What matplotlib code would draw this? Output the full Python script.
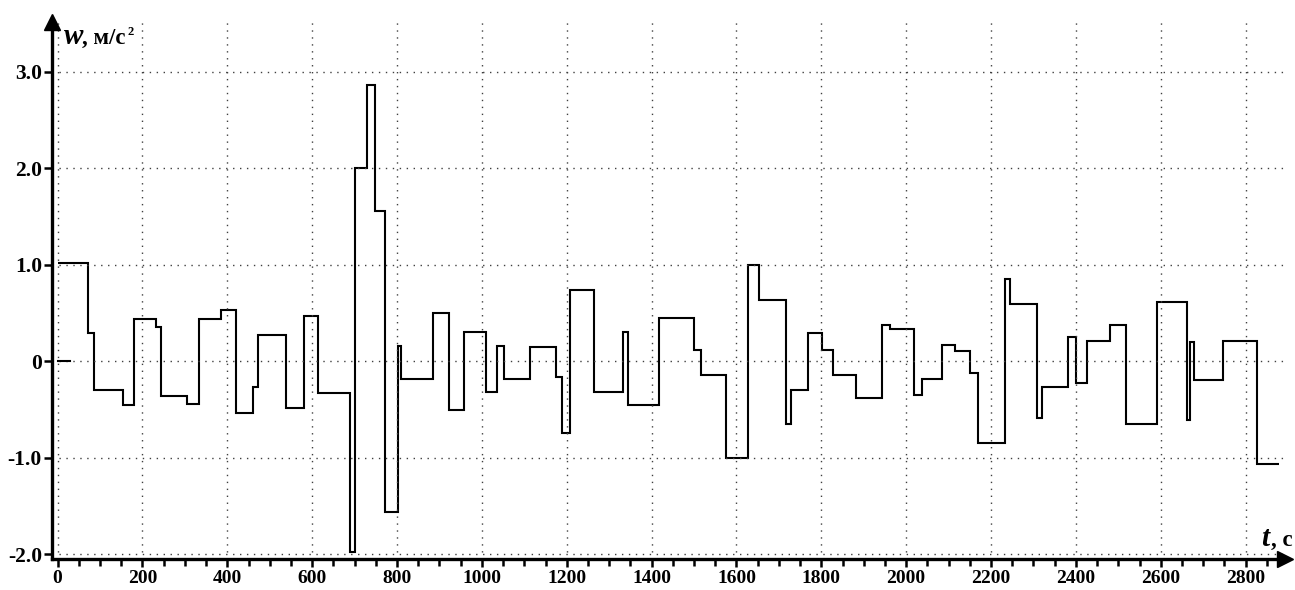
import numpy as np
import matplotlib.pyplot as plt
from matplotlib.ticker import MultipleLocator, FixedLocator, FixedFormatter

# границы ступеней по времени, с
t_edges = [0, 72, 86, 155, 180, 232, 243, 306, 333, 384,
           420, 461, 473, 538, 581, 613, 689, 701, 730, 749,
           771, 803, 809, 884, 923, 959, 1009, 1036, 1053, 1113,
           1175, 1189, 1208, 1265, 1332, 1344, 1418, 1499, 1517, 1575,
           1627, 1652, 1716, 1729, 1769, 1802, 1828, 1882, 1944, 1962,
           2018, 2038, 2085, 2115, 2151, 2170, 2234, 2245, 2309, 2321,
           2382, 2400, 2427, 2481, 2517, 2592, 2661, 2670, 2679, 2746,
           2826, 2878]

# ускорение на каждой ступени, м/с^2
w_vals = [1.02, 0.29, -0.30, -0.45, 0.44, 0.35, -0.36, -0.44, 0.44, 0.53,
          -0.54, -0.27, 0.27, -0.48, 0.47, -0.33, -1.98, 2.0, 2.86, 1.56,
          -1.56, 0.16, -0.18, 0.50, -0.51, 0.30, -0.32, 0.16, -0.18, 0.15,
          -0.16, -0.74, 0.74, -0.32, 0.30, -0.45, 0.45, 0.12, -0.14, -1.00,
          1.0, 0.63, -0.65, -0.30, 0.29, 0.12, -0.14, -0.38, 0.38, 0.335,
          -0.35, -0.18, 0.17, 0.11, -0.12, -0.85, 0.85, 0.59, -0.59, -0.27,
          0.255, -0.225, 0.21, 0.38, -0.65, 0.61, -0.61, 0.20, -0.19, 0.21,
          -1.07]

# короткий отрезок на нуле в начале
zero_t = [0, 29]
zero_w = [0, 0]

y_ticks = [-2, -1, 0, 1, 2, 3]
y_labels = ['-2.0', '-1.0', '0', '1.0', '2.0', '3.0']

plt.rcParams['font.family'] = ['Liberation Serif', 'DejaVu Serif']
plt.rcParams['font.weight'] = 'bold'

fig = plt.figure(figsize=(12.95, 5.9), dpi=100)
ax = fig.add_axes([0.0399, 0.0525, 0.9524, 0.9102])

ax.stairs(w_vals, t_edges, baseline=None, color='black', lw=1.5)
ax.plot(zero_t, zero_w, color='black', lw=1.5)

ax.set_xlim(-14, 2893)
ax.set_ylim(-2.05, 3.516)

ax.xaxis.set_major_locator(MultipleLocator(200))
ax.xaxis.set_minor_locator(MultipleLocator(50))
ax.yaxis.set_major_locator(FixedLocator(y_ticks))
ax.yaxis.set_major_formatter(FixedFormatter(y_labels))

ax.grid(True, which='major', color='0.25', linestyle=(0, (1, 4)), lw=1)

for s in ['top', 'right']:
    ax.spines[s].set_visible(False)
for s in ['left', 'bottom']:
    ax.spines[s].set_linewidth(2.4)

ax.tick_params(axis='both', which='major', direction='out', length=6,
               width=1.8)
ax.tick_params(axis='x', which='major', pad=2, labelsize=14)
ax.tick_params(axis='y', which='major', pad=1, labelsize=15.5)
ax.tick_params(axis='x', which='minor', direction='out', length=5, width=1.8)
for lab in ax.get_xticklabels() + ax.get_yticklabels():
    lab.set_fontweight('bold')

# стрелки осей
ax.plot(0, 1, marker='^', ms=11, color='black', transform=ax.transAxes,
        clip_on=False)
ax.plot(1, 0, marker='>', ms=11, color='black', transform=ax.transAxes,
        clip_on=False)

# подписи осей
fig.text(64 / 1295, 1 - 44 / 590, 'w', fontsize=21, style='italic',
         fontweight='bold')
fig.text(82 / 1295, 1 - 44 / 590, ', м/с', fontsize=16.5, fontweight='bold')
fig.text(127 / 1295, 1 - 35 / 590, '2', fontsize=9, fontweight='bold')
fig.text(1261 / 1295, 1 - 546 / 590, 't', fontsize=21, style='italic',
         fontweight='bold')
fig.text(1271 / 1295, 1 - 546 / 590, ', с', fontsize=16.5, fontweight='bold')

fig.savefig('out.png', dpi=100)
